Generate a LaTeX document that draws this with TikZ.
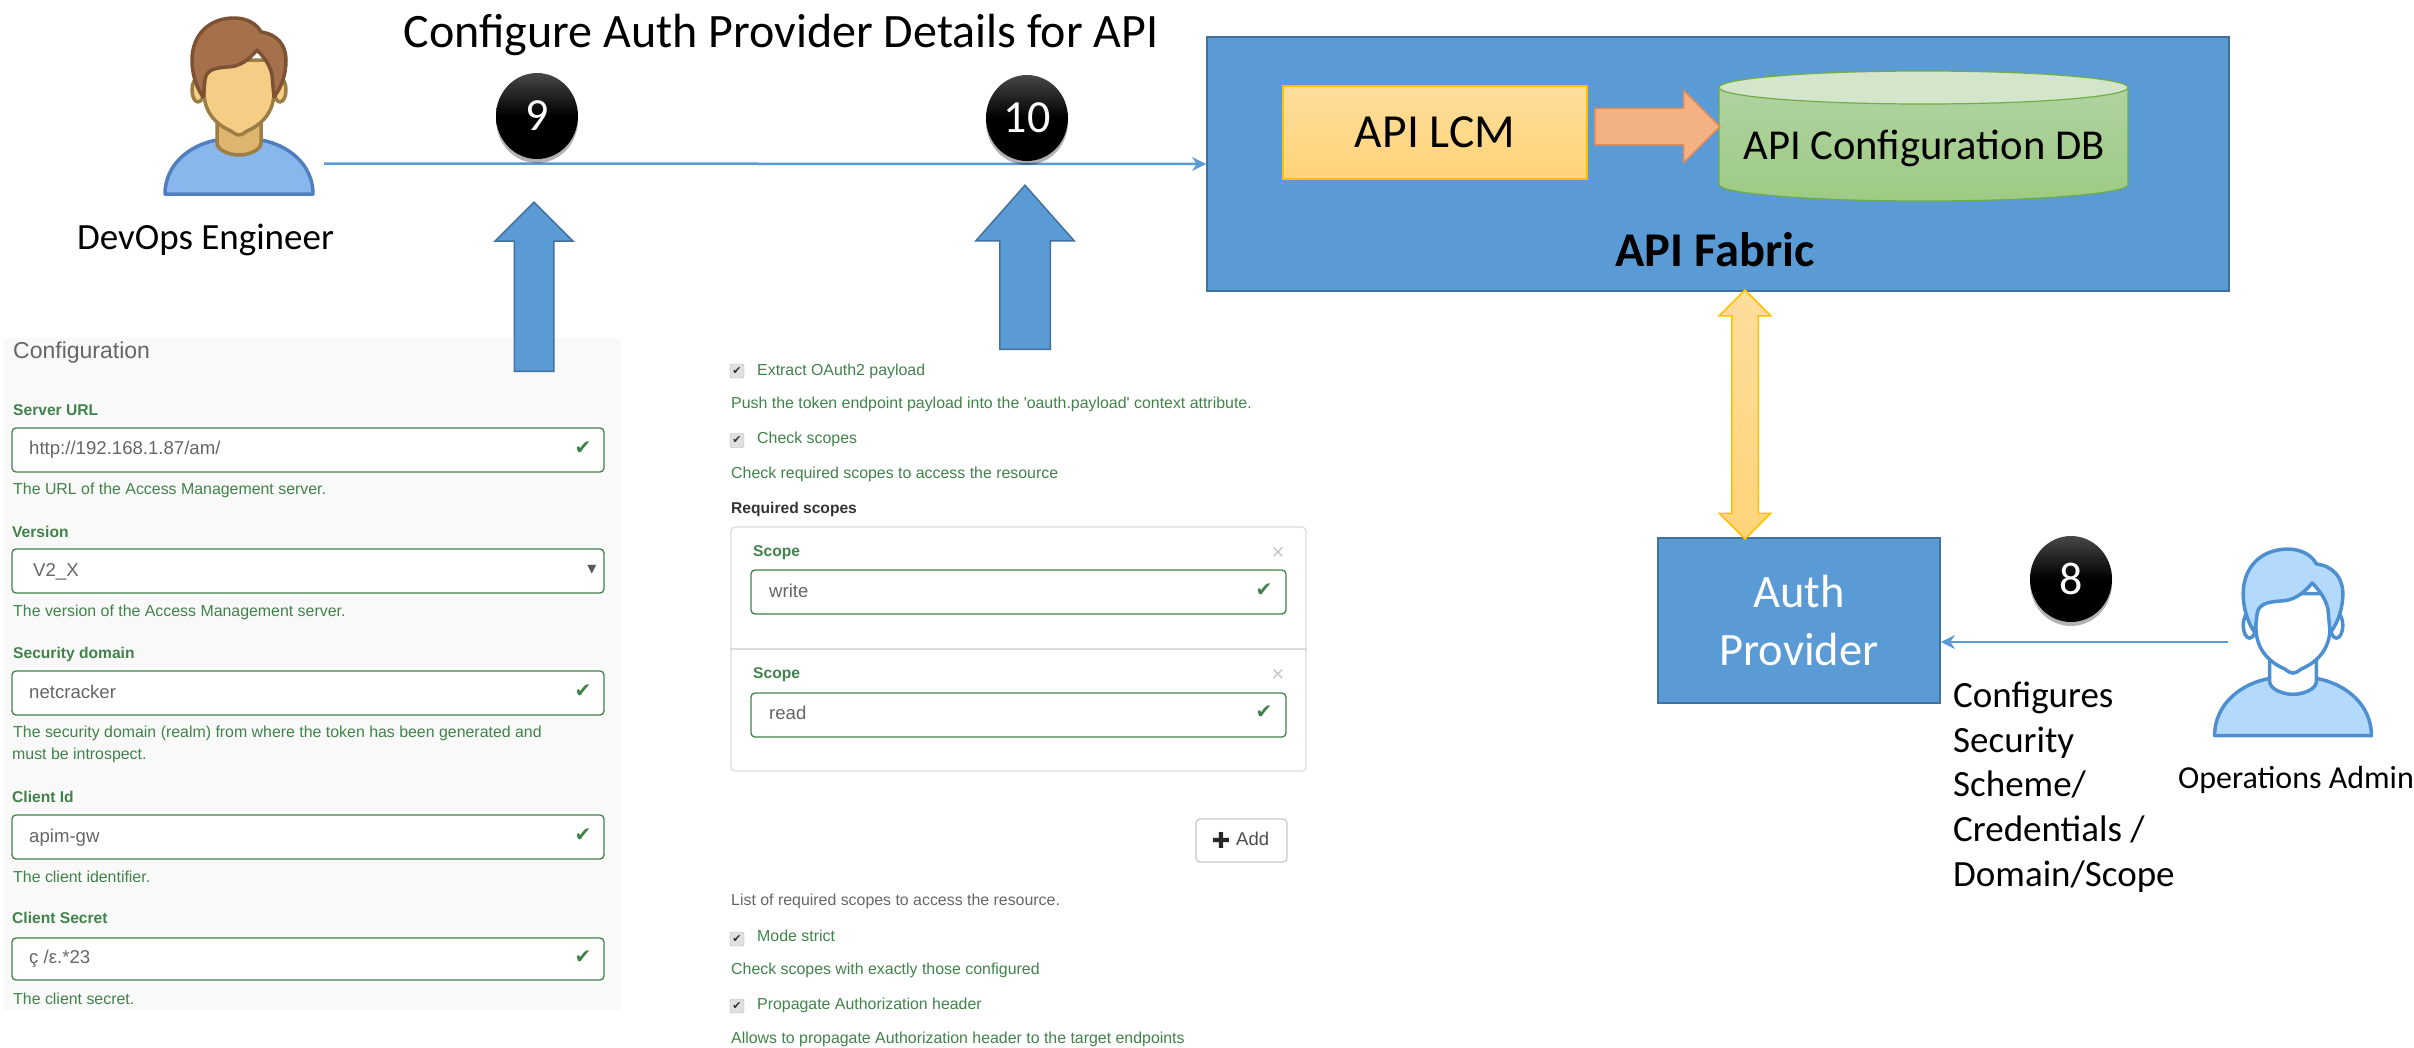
\documentclass[tikz,border=0pt]{standalone}
\usepackage{fontspec}
\setmainfont{Carlito}
\newfontfamily\uifont{Liberation Sans}
\newfontfamily\symfont{DejaVu Sans}
\usetikzlibrary{shapes.geometric,shapes.arrows,shadows,arrows.meta}

\definecolor{boxblue}{HTML}{5B9BD5}
\definecolor{boxline}{HTML}{41719C}
\definecolor{uigreen}{HTML}{41824A}
\definecolor{uigrey}{HTML}{666666}
\definecolor{goldline}{HTML}{FFC000}
\definecolor{goldtop}{HTML}{FFDD9C}
\definecolor{goldbottom}{HTML}{FFD479}
\definecolor{salmon}{HTML}{F4B183}
\definecolor{salmonline}{HTML}{E38A56}
\definecolor{dbline}{HTML}{70AD47}
\definecolor{dbtop}{HTML}{B0D2A0}
\definecolor{dbbottom}{HTML}{9DCB84}
\definecolor{dbend}{HTML}{D3E5CB}
\definecolor{devhair}{HTML}{A5714D}
\definecolor{devhairline}{HTML}{7D5233}
\definecolor{devface}{HTML}{F5CE85}
\definecolor{devfaceline}{HTML}{9C7D43}
\definecolor{devneck}{HTML}{DDB56E}
\definecolor{devbody}{HTML}{89B6ED}
\definecolor{devbodyline}{HTML}{4F7FBE}
\definecolor{adminhair}{HTML}{B3DAFC}
\definecolor{adminhairline}{HTML}{4E90CF}
\definecolor{adminface}{HTML}{FFFFFF}
\definecolor{adminfaceline}{HTML}{4E90CF}
\definecolor{adminneck}{HTML}{FFFFFF}
\definecolor{adminbody}{HTML}{B3DAFC}
\definecolor{adminbodyline}{HTML}{4E90CF}

\newcommand{\person}[3]{
\begin{scope}[shift={#1},scale=#2,line width=3.5pt,line join=round]
\draw[fill=#3body,draw=#3bodyline] (-74,194) .. controls (-74,165) and (-50,145) .. (-22,140) -- (22,140) .. controls (50,145) and (74,165) .. (74,194) -- cycle;
\draw[fill=#3neck,draw=#3faceline] (-22,120) -- (-22,143) .. controls (-22,150) and (-10,155) .. (0,155) .. controls (10,155) and (22,150) .. (22,143) -- (22,120) -- cycle;
\draw[fill=#3face,draw=#3faceline] (-41,90) ellipse (6 and 12);
\draw[fill=#3face,draw=#3faceline] (41,90) ellipse (6 and 12);
\draw[fill=#3face,draw=#3faceline] (-35,60) -- (-35,92) .. controls (-35,118) and (-15,128) .. (-8,131) .. controls (-4,134) and (-2,135) .. (0,135) .. controls (2,135) and (4,134) .. (8,131) .. controls (15,128) and (35,118) .. (35,92) -- (35,60) -- cycle;
\draw[fill=#3hair,draw=#3hairline] (-36,97) .. controls (-44,85) and (-47,72) .. (-47,60) .. controls (-47,35) and (-30,18) .. (-5,18) .. controls (8,18) and (18,24) .. (22,32) .. controls (38,34) and (47,45) .. (47,60) .. controls (47,75) and (42,88) .. (35,97) -- (33,75) .. controls (31,65) and (25,57) .. (18,50) .. controls (10,60) and (0,67) .. (-12,67) .. controls (-25,68) and (-33,70) .. (-34,80) -- cycle;
\end{scope}
}

\tikzset{
  stepball/.style={ellipse,minimum width=82,minimum height=86,inner sep=0,text=white,top color=black!72,bottom color=black,middle color=black,font=\fontsize{46}{50}\selectfont,drop shadow={shadow xshift=0pt,shadow yshift=-4pt,opacity=.3,fill=black}},
  heading/.style={inner sep=0,font=\fontsize{37}{44}\selectfont},
  bluearrow/.style={single arrow,draw=boxline,line width=1.5pt,fill=boxblue,rotate=90,anchor=tail,inner xsep=0,single arrow tip angle=90},
  bluebox/.style={rectangle,draw=boxline,line width=1.8pt,fill=boxblue,inner sep=0},
  fieldbox/.style={rectangle,rounded corners=4pt,draw=uigreen,line width=1.3pt,fill=white,inner sep=0,minimum height=44},
  uitext/.style={anchor=west,inner sep=0,yshift=-3pt,text=uigreen,text height=.72em,text depth=.2em,font=\uifont\fontsize{15.9}{18}\selectfont},
  uibold/.style={uitext,font=\uifont\bfseries\fontsize{15.6}{18}\selectfont},
  fieldtext/.style={uitext,text=uigrey,font=\uifont\fontsize{18.6}{22}\selectfont},
  tickmark/.style={inner sep=0,text=uigreen,font=\symfont\fontsize{20}{20}\selectfont},
  checkbox/.style={rectangle,rounded corners=2pt,draw=black!30,fill=black!12,minimum size=14,inner sep=0,text=black!80,font=\symfont\fontsize{11}{11}\selectfont},
  closemark/.style={inner sep=0,text=black!22,font=\symfont\fontsize{17}{18}\selectfont},
}

\begin{document}
\begin{tikzpicture}[>={Stealth[length=14pt,width=14pt]},x=1pt,y=-1pt]

\useasboundingbox (0,0) rectangle (2414,1047);

\person{(239,0)}{1}{dev}
\person{(2293,530)}{1.06}{admin}

\node(title) at (781,35)[inner sep=0,font=\fontsize{48}{52}\selectfont] {Configure Auth Provider Details for API};
\node(devops) at (205.5,239.5)[heading] {DevOps Engineer};
\node(admin) at (2296,779.5)[inner sep=0,font=\fontsize{32}{38}\selectfont] {Operations Admin};
\node(scheme) at (1953,787)[heading,anchor=west,align=left,font=\fontsize{37}{44.6}\selectfont] {Configures\\Security\\Scheme/\\Credentials /\\Domain/Scope};

\node(fabric) at (1718,164)[bluebox,minimum width=1022,minimum height=254] {};
\node(fabrictext) at (1715,250)[inner sep=0,font=\bfseries\fontsize{48.5}{52}\selectfont] {API Fabric};
\node(lcm) at (1435,132.5)[rectangle,draw=goldline,line width=1.5pt,top color=goldtop,bottom color=goldbottom,minimum width=304,minimum height=93,inner sep=0,font=\fontsize{47.5}{50}\selectfont] {API LCM};
\draw[draw=dbline,line width=1.2pt,top color=dbtop,bottom color=dbbottom] (1719,88) -- (1719,184.5) arc (180:0:204.5 and 16.5) -- (2128,88) -- cycle;
\draw[draw=dbline,line width=1.2pt,fill=dbend] (1923.5,87.5) ellipse (204.5 and 16.5);
\node(db) at (1924,148)[inner sep=0,font=\fontsize{42.6}{48}\selectfont] {API Configuration DB};
\node(save) at (1594,126.5)[single arrow,draw=salmonline,line width=1.5pt,fill=salmon,anchor=tail,inner xsep=0,inner ysep=17.5,single arrow tip angle=90,single arrow head extend=18,minimum width=71,minimum height=125] {};

\node(auth) at (1799,620.5)[bluebox,minimum width=282,minimum height=165,align=center,text=white,font=\fontsize{46.5}{58}\selectfont] {Auth\\Provider};
\node(link) at (1745,414.5)[double arrow,draw=goldline,line width=1.5pt,top color=goldtop,bottom color=goldbottom,rotate=90,inner xsep=0,inner ysep=12.5,double arrow tip angle=90,double arrow head extend=12.5,minimum width=50,minimum height=249] {};

\coordinate(devopsout) at (324,163.5);
\coordinate(adminout) at (2228,642);
\draw[->,line width=2.5pt,draw=boxblue] (devopsout) -- (fabric.west);
\draw[->,line width=2.5pt,draw=boxblue] (adminout) -- (adminout -| auth.east);

\node(ballnine) at (537,116)[stepball] {9};
\node(ballten) at (1027,118)[stepball] {10};
\node(balleight) at (2071,579)[stepball] {8};

\fill[black!2.5] (4,338) rectangle (621,1010);

\node(upnine) at (534,372)[bluearrow,inner ysep=19,single arrow head extend=19,minimum width=76,minimum height=169] {};
\node(upten) at (1025,350)[bluearrow,inner ysep=24.5,single arrow tip angle=83,single arrow head extend=24,minimum width=97,minimum height=164] {};

\node(config) at (13,353)[uitext,text=uigrey,font=\uifont\fontsize{23}{26}\selectfont] {Configuration};

\node(urllabel) at (13,410)[uibold] {Server URL};
\node(urlfield) at (308,450)[fieldbox,minimum width=592] {};
\node(urltext) at (29,449)[fieldtext] {http://192.168.1.87/am/};
\node(urltick) at (583,448)[tickmark] {✔};
\node(urlhelp) at (13,489)[uitext] {The URL of the Access Management server.};

\node(versionlabel) at (12,532)[uibold] {Version};
\node(versionfield) at (308,571)[fieldbox,minimum width=592] {};
\node(versiontext) at (33,571)[fieldtext] {V2\_X};
\node(versioncaret) at (592,570)[inner sep=0,text=black!65,font=\symfont\fontsize{18}{18}\selectfont] {▾};
\node(versionhelp) at (13,611)[uitext] {The version of the Access Management server.};

\node(domainlabel) at (13,653)[uibold] {Security domain};
\node(domainfield) at (308,693)[fieldbox,minimum width=592] {};
\node(domaintext) at (29,693)[fieldtext] {netcracker};
\node(domaintick) at (583,691)[tickmark] {✔};
\node(domainhelp) at (13,732)[uitext] {The security domain (realm) from where the token has been generated and};
\node(domainmore) at (12,754)[uitext] {must be introspect.};

\node(idlabel) at (12,796.5)[uibold] {Client Id};
\node(idfield) at (308,837)[fieldbox,minimum width=592] {};
\node(idtext) at (29,837)[fieldtext] {apim-gw};
\node(idtick) at (583,835)[tickmark] {✔};
\node(idhelp) at (13,877)[uitext] {The client identifier.};

\node(secretlabel) at (12,918)[uibold] {Client Secret};
\node(secretfield) at (308,959)[fieldbox,minimum width=592,minimum height=42] {};
\node(secrettext) at (29,958)[fieldtext] {ç /ε.*23};
\node(secrettick) at (583,957)[tickmark] {✔};
\node(secrethelp) at (13,999)[uitext] {The client secret.};

\node(payloadbox) at (737,371)[checkbox] {✔};
\node(payloadlabel) at (757,370)[uitext] {Extract OAuth2 payload};
\node(payloadhelp) at (731,403)[uitext] {Push the token endpoint payload into the 'oauth.payload' context attribute.};
\node(scopesbox) at (737,440.5)[checkbox] {✔};
\node(scopeslabel) at (757,438)[uitext] {Check scopes};
\node(scopeshelp) at (731,472.5)[uitext] {Check required scopes to access the resource};
\node(required) at (731,508)[uibold,text=black!80] {Required scopes};

\node(scopepanel) at (1018.5,649)[rectangle,rounded corners=4pt,draw=black!14,line width=1.2pt,minimum width=575,minimum height=244,inner sep=0] {};
\draw[draw=black!14,line width=2pt] (scopepanel.west) -- (scopepanel.east);
\node(writelabel) at (753,551)[uibold] {Scope};
\node(writeclose) at (1278,553)[closemark] {✕};
\node(writefield) at (1018.5,592)[fieldbox,minimum width=535] {};
\node(writetext) at (769,591.5)[fieldtext] {write};
\node(writetick) at (1264,590)[tickmark] {✔};
\node(readlabel) at (753,673)[uibold] {Scope};
\node(readclose) at (1278,674.5)[closemark] {✕};
\node(readfield) at (1018.5,715)[fieldbox,minimum width=535] {};
\node(readtext) at (769,714)[fieldtext] {read};
\node(readtick) at (1264,712)[tickmark] {✔};

\node(addbutton) at (1241.5,840.5)[rectangle,rounded corners=4pt,draw=black!22,line width=1.2pt,minimum width=91,minimum height=43,inner sep=0] {};
\node(addplus) at (1221,840)[inner sep=0,text=black!85,font=\symfont\fontsize{22}{22}\selectfont] {✚};
\node(addtext) at (1236,839.5)[fieldtext,text=black!70,font=\uifont\fontsize{18.5}{20}\selectfont] {Add};

\node(listhelp) at (731,900)[uitext,text=uigrey] {List of required scopes to access the resource.};
\node(strictbox) at (737,939)[checkbox] {✔};
\node(strictlabel) at (757,936)[uitext] {Mode strict};
\node(stricthelp) at (731,968.5)[uitext] {Check scopes with exactly those configured};
\node(propagatebox) at (737,1006)[checkbox] {✔};
\node(propagatelabel) at (757,1004)[uitext] {Propagate Authorization header};
\node(propagatehelp) at (731,1038)[uitext] {Allows to propagate Authorization header to the target endpoints};

\end{tikzpicture}
\end{document}
